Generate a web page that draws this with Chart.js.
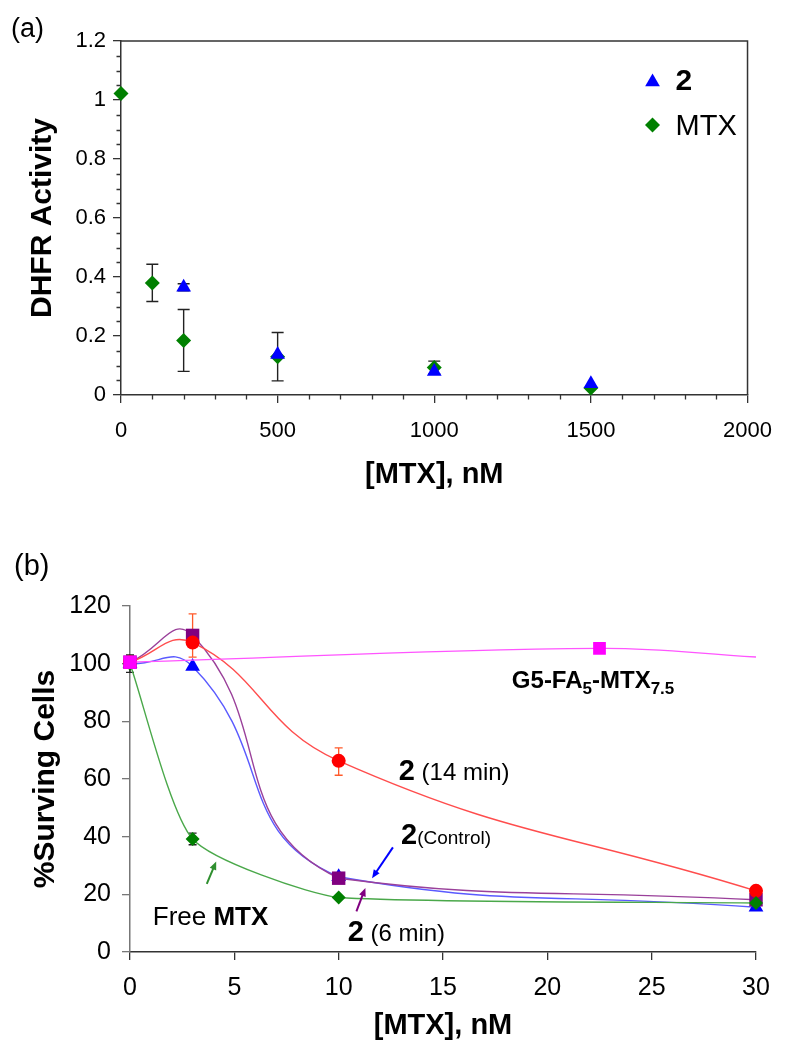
<!DOCTYPE html>
<html>
<head>
<meta charset="utf-8">
<script src="https://cdn.jsdelivr.net/npm/chart.js@4.4.1/dist/chart.umd.min.js"></script>
<style>
  html, body { margin: 0; padding: 0; background: #fff; }
  #wrap { position: relative; width: 787px; height: 1041px; }
  canvas { position: absolute; left: 0; }
  #chartA { top: 0; }
  #chartB { top: 510px; }
</style>
</head>
<body>
<div id="wrap">
  <canvas id="chartA" width="787" height="510"></canvas>
  <canvas id="chartB" width="787" height="531"></canvas>
</div>
<script>
const FONT = 'Arial, "Liberation Sans", Helvetica, sans-serif';

// (a) DHFR activity vs [MTX], nM
const dhfrConc2 = [200, 500, 1000, 1500];
const dhfrAct2 = [0.365, 0.137, 0.080, 0.038];
const dhfrErr2 = [0.012, 0, 0, 0];
const dhfrConcMTX = [0, 100, 200, 500, 1000, 1500];
const dhfrActMTX = [1.022, 0.380, 0.185, 0.130, 0.093, 0.024];
const dhfrErrMTX = [0, 0.063, 0.105, 0.082, 0.022, 0];

// (b) % surviving cells vs [MTX], nM
const survConc = [0, 3, 10, 30];
const survFreeMTX = [100, 39.2, 18.9, 17.0];
const survControl = [100, 99, 26.1, 15.5];
const surv6min = [100.5, 109.8, 25.6, 18.1];
const surv14min = [100.5, 107.3, 66.3, 21.2];
const survG5Conc = [0, 22.5, 30];
const survG5 = [100.5, 105.3, 102.3];
const errFreeMTX = [3, 2, 0, 0];
const err14minUp = [0, 10, 4.5, 0];
const err14minDown = [0, 5, 5, 0];

const toXY = (xs, ys) => xs.map((x, i) => ({ x, y: ys[i] }));
const tickIsMajor = (v, step) => Math.abs(v / step - Math.round(v / step)) < 1e-6;

// error bars are drawn under the markers
const errorBars = {
  id: 'errorBars',
  beforeDatasetsDraw(chart, args, opts) {
    const { ctx } = chart;
    const xs = chart.scales.x, ys = chart.scales.y;
    ctx.save();
    chart.data.datasets.forEach(ds => {
      if (!ds.errUp) return;
      ctx.strokeStyle = ds.errColor || '#000';
      ctx.lineWidth = opts.width || 1.3;
      ds.data.forEach((p, i) => {
        const up = ds.errUp[i] || 0, down = ds.errDown[i] || 0;
        if (!up && !down) return;
        const px = xs.getPixelForValue(p.x);
        const top = ys.getPixelForValue(p.y + up);
        const bot = ys.getPixelForValue(p.y - down);
        const cap = opts.cap || 5;
        ctx.beginPath();
        ctx.moveTo(px, top); ctx.lineTo(px, bot);
        ctx.moveTo(px - cap, top); ctx.lineTo(px + cap, top);
        ctx.moveTo(px - cap, bot); ctx.lineTo(px + cap, bot);
        ctx.stroke();
      });
    });
    ctx.restore();
  }
};

// keep a smoothed segment from swinging past the point it heads to (flat Excel-like tails)
const tameSpline = {
  id: 'tameSpline',
  beforeDatasetsDraw(chart) {
    chart.getSortedVisibleDatasetMetas().forEach(meta => {
      const line = meta.dataset;
      if (!line || !line.updateControlPoints) return;
      line.updateControlPoints(chart.chartArea, 'x');
      const pts = meta.data;
      for (let i = 0; i < pts.length - 1; i++) {
        const a = pts[i], b = pts[i + 1];
        if ((b.y - a.y) * (a.cp2y - b.y) > 0) a.cp2y = b.y;
      }
    });
  }
};

// short ticks between the labelled ones
const minorTicks = {
  id: 'minorTicks',
  afterDraw(chart, args, opts) {
    if (!opts.xMajor) return;
    const { ctx, chartArea } = chart;
    const xs = chart.scales.x, ys = chart.scales.y;
    ctx.save();
    ctx.strokeStyle = '#333';
    ctx.lineWidth = 1.3;
    ctx.beginPath();
    xs.ticks.forEach(t => {
      if (tickIsMajor(t.value, opts.xMajor)) return;
      const px = Math.round(xs.getPixelForValue(t.value)) + 0.5;
      ctx.moveTo(px, chartArea.bottom); ctx.lineTo(px, chartArea.bottom + 4.5);
    });
    ys.ticks.forEach(t => {
      if (tickIsMajor(t.value, opts.yMajor)) return;
      const py = Math.round(ys.getPixelForValue(t.value)) + 0.5;
      ctx.moveTo(chartArea.left - 4.5, py); ctx.lineTo(chartArea.left, py);
    });
    ctx.stroke();
    ctx.restore();
  }
};

// top and right border of panel (a)
const frame = {
  id: 'frame',
  afterDraw(chart, args, opts) {
    if (!opts.show) return;
    const { ctx, chartArea: a } = chart;
    ctx.save();
    ctx.strokeStyle = '#333';
    ctx.lineWidth = 1.5;
    ctx.beginPath();
    ctx.moveTo(a.left, a.top); ctx.lineTo(a.right, a.top); ctx.lineTo(a.right, a.bottom);
    ctx.stroke();
    ctx.restore();
  }
};

const panelLabel = {
  id: 'panelLabel',
  afterDraw(chart, args, opts) {
    const { ctx } = chart;
    ctx.save();
    ctx.fillStyle = '#000';
    ctx.font = opts.size + 'px ' + FONT;
    ctx.textBaseline = 'middle';
    ctx.textAlign = 'left';
    ctx.fillText(opts.text, opts.x, opts.y);
    ctx.restore();
  }
};

// legend inside the plot, top right
const legendA = {
  id: 'legendA',
  afterDraw(chart) {
    const { ctx, chartArea } = chart;
    ctx.save();
    chart.data.datasets.forEach((ds, i) => {
      const cx = chartArea.right - 95, cy = chartArea.top + 41 + i * 43;
      ctx.fillStyle = ds.backgroundColor;
      Chart.helpers.drawPoint(ctx, { pointStyle: ds.pointStyle, radius: ds.pointRadius, rotation: 0, borderWidth: 0 }, cx, cy);
      ctx.fillStyle = '#000';
      ctx.textBaseline = 'alphabetic';
      ctx.textAlign = 'left';
      ctx.font = (ds.legendBold ? 'bold 30px ' : '29px ') + FONT;
      ctx.fillText(ds.label, chartArea.right - 72, cy + (ds.legendBold ? 8 : 10));
    });
    ctx.restore();
  }
};

// (b) curve labels and arrows, placed in data units
const notesB = [
  { x: 18.3, y: 91.4, runs: [
    { text: 'G5-FA', bold: true, size: 24 }, { text: '5', bold: true, size: 17, dy: 6 },
    { text: '-MTX', bold: true, size: 24 }, { text: '7.5', bold: true, size: 17, dy: 6 }] },
  { x: 12.88, y: 59.8, runs: [{ text: '2', bold: true, size: 29 }, { text: ' (14 min)', size: 24 }] },
  { x: 12.99, y: 37.5, runs: [{ text: '2', bold: true, size: 29 }, { text: '(Control)', size: 19 }] },
  { x: 10.43, y: 3.9, runs: [{ text: '2', bold: true, size: 29 }, { text: ' (6 min)', size: 24 }] },
  { x: 1.09, y: 9.5, runs: [{ text: 'Free ', size: 26 }, { text: 'MTX', bold: true, size: 26 }] }
];
const arrowsB = [
  { from: [3.68, 23.6], to: [4.13, 31.4], color: '#2f8f2f' },
  { from: [12.6, 36.3], to: [11.6, 25.6], color: '#0000ff' },
  { from: [10.85, 14.1], to: [11.28, 22.2], color: '#800080' }
];

function drawArrow(ctx, x0, y0, x1, y1, color) {
  const ang = Math.atan2(y1 - y0, x1 - x0), head = 9;
  ctx.strokeStyle = color;
  ctx.fillStyle = color;
  ctx.lineWidth = 2;
  ctx.beginPath();
  ctx.moveTo(x0, y0);
  ctx.lineTo(x1 - Math.cos(ang) * head * 0.8, y1 - Math.sin(ang) * head * 0.8);
  ctx.stroke();
  ctx.beginPath();
  ctx.moveTo(x1, y1);
  ctx.lineTo(x1 - head * Math.cos(ang - 0.4), y1 - head * Math.sin(ang - 0.4));
  ctx.lineTo(x1 - head * Math.cos(ang + 0.4), y1 - head * Math.sin(ang + 0.4));
  ctx.closePath();
  ctx.fill();
}

const annotationsB = {
  id: 'annotationsB',
  afterDatasetsDraw(chart) {
    const { ctx } = chart;
    const xs = chart.scales.x, ys = chart.scales.y;
    ctx.save();
    ctx.fillStyle = '#000';
    ctx.textBaseline = 'alphabetic';
    ctx.textAlign = 'left';
    notesB.forEach(n => {
      let cx = xs.getPixelForValue(n.x);
      const by = ys.getPixelForValue(n.y);
      n.runs.forEach(r => {
        ctx.font = (r.bold ? 'bold ' : '') + r.size + 'px ' + FONT;
        ctx.fillText(r.text, cx, by + (r.dy || 0));
        cx += ctx.measureText(r.text).width;
      });
    });
    arrowsB.forEach(a => {
      drawArrow(ctx, xs.getPixelForValue(a.from[0]), ys.getPixelForValue(a.from[1]),
        xs.getPixelForValue(a.to[0]), ys.getPixelForValue(a.to[1]), a.color);
    });
    ctx.restore();
  }
};

const tickFont = size => ({ family: FONT, size });
const titleFont = size => ({ family: FONT, size, weight: 'bold', lineHeight: 1 });

// panel (a)
new Chart(document.getElementById('chartA'), {
  type: 'scatter',
  data: {
    datasets: [
      { label: '2', legendBold: true, data: toXY(dhfrConc2, dhfrAct2), pointStyle: 'triangle', pointRadius: 8.5,
        backgroundColor: '#0000ff', borderColor: '#0000ff', pointBorderWidth: 0, clip: false,
        errUp: dhfrErr2, errDown: dhfrErr2, errColor: '#222' },
      { label: 'MTX', data: toXY(dhfrConcMTX, dhfrActMTX), pointStyle: 'rectRot', pointRadius: 7.5,
        backgroundColor: '#008000', borderColor: '#008000', pointBorderWidth: 0, clip: false,
        errUp: dhfrErrMTX, errDown: dhfrErrMTX, errColor: '#222' }
    ]
  },
  options: {
    responsive: false,
    animation: false,
    layout: { padding: { top: 41, right: 31, left: 0, bottom: 0 } },
    plugins: {
      legend: { display: false },
      tooltip: { enabled: false },
      errorBars: { cap: 6, width: 1.4 },
      minorTicks: { xMajor: 500, yMajor: 0.2 },
      frame: { show: true },
      panelLabel: { text: '(a)', x: 11, y: 30, size: 27 }
    },
    scales: {
      x: {
        type: 'linear', min: 0, max: 2000,
        afterFit: s => { s.height = 115; },
        border: { color: '#333', width: 1.5 },
        grid: { drawOnChartArea: false, tickLength: 8, lineWidth: 1.3,
          tickColor: c => tickIsMajor(c.tick.value, 500) ? '#333' : 'rgba(0,0,0,0)' },
        ticks: { stepSize: 100, autoSkip: false, maxRotation: 0, padding: 15, color: '#000', font: tickFont(22),
          callback: v => tickIsMajor(v, 500) ? String(Math.round(v)) : '' },
        title: { display: true, text: '[MTX], nM', color: '#000', font: titleFont(29), padding: { top: 0, bottom: 20.5 } }
      },
      y: {
        min: 0, max: 1.2,
        afterFit: s => { s.width = 121; },
        border: { color: '#333', width: 1.5 },
        grid: { drawOnChartArea: false, tickLength: 8, lineWidth: 1.3,
          tickColor: c => tickIsMajor(c.tick.value, 0.2) ? '#333' : 'rgba(0,0,0,0)' },
        ticks: { stepSize: 0.05, autoSkip: false, padding: 7, color: '#000', font: tickFont(22),
          callback: v => tickIsMajor(v, 0.2) ? String(+v.toFixed(1)) : '' },
        title: { display: true, text: 'DHFR Activity', color: '#000', font: titleFont(30), padding: { top: 28, bottom: 0 } }
      }
    }
  },
  plugins: [errorBars, minorTicks, frame, legendA, panelLabel]
});

// panel (b): first dataset is drawn on top
const lineSet = (label, xs, ys, style, radius, fill, line, tension) => ({
  label, data: toXY(xs, ys), showLine: true, tension, clip: false,
  pointStyle: style, pointRadius: radius, pointBorderWidth: 0,
  pointBackgroundColor: fill, backgroundColor: fill, borderColor: line, borderWidth: 1.4
});

const dsG5 = lineSet('G5-FA5-MTX7.5', survG5Conc, survG5, 'rect', [9.5, 9, 0], '#ff00ff', '#ff55ff', 0.4);
const dsFree = lineSet('Free MTX', survConc, survFreeMTX, 'rectRot', 7, '#008000', '#4aa84a', 0.2);
dsFree.errUp = errFreeMTX; dsFree.errDown = errFreeMTX; dsFree.errColor = '#222';
const ds14 = lineSet('2 (14 min)', survConc, surv14min, 'circle', 7, '#ff0000', '#ff4d4d', 0.45);
ds14.errUp = err14minUp; ds14.errDown = err14minDown; ds14.errColor = '#ff5a2a';
const ds6 = lineSet('2 (6 min)', survConc, surv6min, 'rect', 9.5, '#800080', '#9a409a', 0.5);
const dsCtrl = lineSet('2 (Control)', survConc, survControl, 'triangle', 8.5, '#0000ff', '#5a5aff', 0.5);

new Chart(document.getElementById('chartB'), {
  type: 'scatter',
  data: { datasets: [dsG5, dsFree, ds14, ds6, dsCtrl] },
  options: {
    responsive: false,
    animation: false,
    layout: { padding: { top: 96, right: 31, left: 0, bottom: 0 } },
    plugins: {
      legend: { display: false },
      tooltip: { enabled: false },
      errorBars: { cap: 4, width: 1.3 },
      panelLabel: { text: '(b)', x: 14, y: 57, size: 29 }
    },
    scales: {
      x: {
        type: 'linear', min: 0, max: 30,
        afterFit: s => { s.height = 89; },
        border: { color: '#333', width: 1.5 },
        grid: { drawOnChartArea: false, tickLength: 8, lineWidth: 1.3, tickColor: '#333' },
        ticks: { stepSize: 5, autoSkip: false, maxRotation: 0, padding: 12.7, color: '#000', font: tickFont(25) },
        title: { display: true, text: '[MTX], nM', color: '#000', font: titleFont(29), padding: { top: 0, bottom: 0.5 } }
      },
      y: {
        min: 0, max: 120,
        afterFit: s => { s.width = 130; },
        border: { color: '#777', width: 1.5 },
        grid: { drawOnChartArea: false, tickLength: 8, lineWidth: 1.3, tickColor: '#777' },
        ticks: { stepSize: 20, autoSkip: false, padding: 11, color: '#000', font: tickFont(25) },
        title: { display: true, text: '%Surving Cells', color: '#000', font: titleFont(30), padding: { top: 30.5, bottom: 0 } }
      }
    }
  },
  plugins: [tameSpline, errorBars, annotationsB, panelLabel]
});
</script>
</body>
</html>
